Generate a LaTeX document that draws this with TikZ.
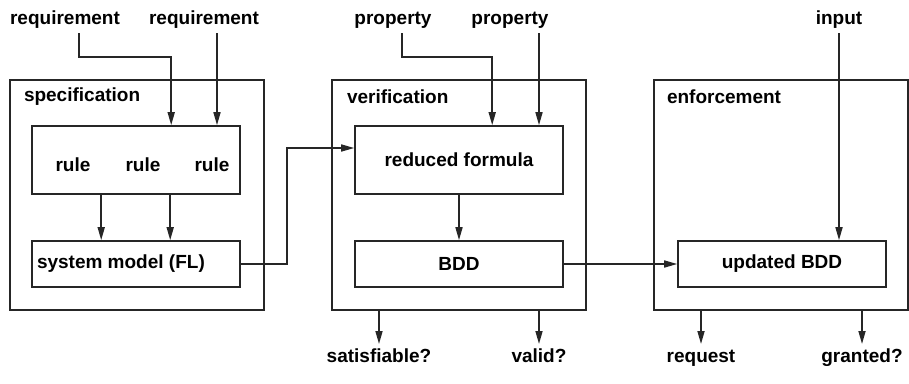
\documentclass[tikz,border=0pt]{standalone}
\usepackage{fontspec}
\setmainfont{Liberation Sans}
\usetikzlibrary{arrows.meta,calc}
\begin{document}
\begin{tikzpicture}[x=1pt,y=-1pt,
  font=\fontsize{19}{22}\selectfont\bfseries,
  line width=1.6pt,
  color={black!85},
  box/.style={draw,rectangle,inner sep=0pt,minimum width=208pt},
  stage/.style={draw,rectangle,inner sep=0pt,minimum width=254pt,minimum height=230pt},
  lbl/.style={inner sep=0pt,text=black},
  outlbl/.style={inner sep=4pt,anchor=north,text=black,text height=14pt,text depth=4pt},
  arr/.style={-{Triangle[length=13pt,width=7pt]}}]
\useasboundingbox (0,0) rectangle (909,383);

% three stages
\node[stage] (spec) at (137,195) {};
\node[stage] (ver) at (459,195) {};
\node[stage] (enf) at (781,195) {};
\node[lbl,anchor=west] at ([xshift=14pt]spec.west |- 0,97) {specification};
\node[lbl,anchor=west] at ([xshift=15pt]ver.west |- 0,97) {verification};
\node[lbl,anchor=west] at ([xshift=13pt]enf.west |- 0,97) {enforcement};

% inner boxes
\node[box,minimum height=68pt] (rules) at (136,160) {};
\node[lbl] (rl1) at (73,165) {rule};
\node[lbl] (rl2) at (143,165) {rule};
\node[lbl] (rl3) at (212,165) {rule};
\node[box,minimum height=46pt] (sys) at (136,264) {};
\node[lbl,anchor=west] (systxt) at ([xshift=5pt]sys.west) {system model (FL)};
\node[box,minimum height=68pt,text=black] (rf) at (459,160) {reduced formula};
\node[box,minimum height=46pt,text=black] (bdd) at (459,264) {BDD};
\node[box,minimum height=46pt,text=black] (ubdd) at (782,264) {updated BDD};

% inputs on top
\node[lbl,anchor=base] (req1) at (65,24) {requirement};
\node[lbl,anchor=base] (req2) at (204,24) {requirement};
\node[lbl,anchor=base] (prop1) at (393,24) {property};
\node[lbl,anchor=base] (prop2) at (510,24) {property};
\node[lbl,anchor=base] (inp) at (839,24) {input};
\coordinate (r1s) at (79,33);
\coordinate (r1k) at (79,57);
\coordinate (r2s) at (217,33);
\coordinate (p1s) at (402,33);
\coordinate (p1k) at (402,57);
\coordinate (p2s) at (539,33);
\coordinate (ins) at (839,33);

\draw[arr] (r1s) -- (r1k) -| ([xshift=140pt]rules.north west);
\draw[arr] (r2s) -- (r2s |- rules.north);
\draw[arr] (p1s) -- (p1k) -| ([xshift=138pt]rf.north west);
\draw[arr] (p2s) -- (p2s |- rf.north);
\draw[arr] (ins) -- (ins |- ubdd.north);

% internal flow
\draw[arr] ([xshift=70pt]rules.south west) -- ([xshift=70pt]sys.north west);
\draw[arr] ([xshift=139pt]rules.south west) -- ([xshift=139pt]sys.north west);
\draw[arr] (rf.south) -- (bdd.north);
\draw[arr] (sys.east) -- ++(46,0) |- ([yshift=12pt]rf.west);
\draw[arr] (bdd.east) -- (ubdd.west);

% outputs
\node[outlbl] (sat) at (379,344) {satisfiable?};
\node[outlbl] (val) at (539,344) {valid?};
\node[outlbl] (req) at (701,344) {request};
\node[outlbl] (gra) at (862,344) {granted?};
\draw[arr] (sat.north |- ver.south) -- (sat.north);
\draw[arr] (val.north |- ver.south) -- (val.north);
\draw[arr] (req.north |- enf.south) -- (req.north);
\draw[arr] (gra.north |- enf.south) -- (gra.north);
\end{tikzpicture}
\end{document}
